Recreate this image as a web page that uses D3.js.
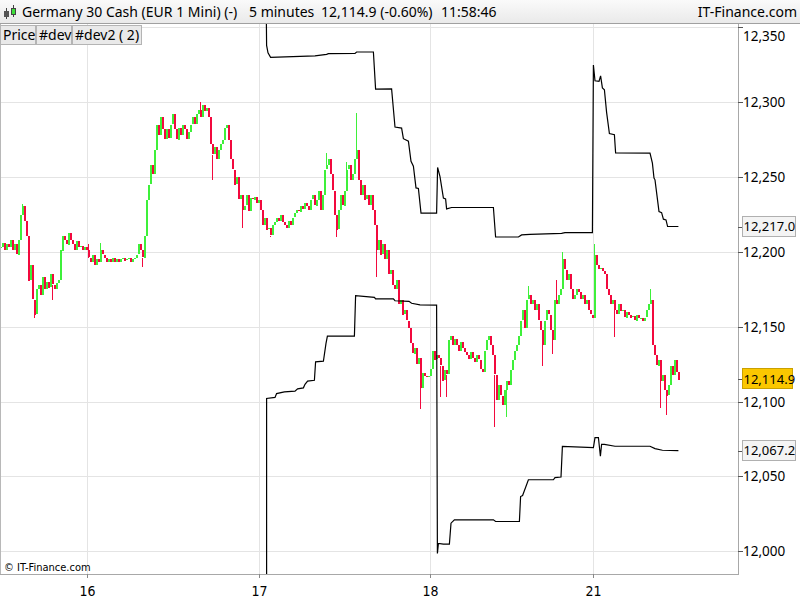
<!DOCTYPE html>
<html>
<head>
<meta charset="utf-8">
<title>Germany 30 Cash - 5 minutes</title>
<script src="https://cdnjs.cloudflare.com/ajax/libs/d3/7.8.5/d3.min.js"></script>
<style>
  html, body { margin: 0; padding: 0; background: #fff; }
  svg { display: block; }
  .ui { font-family: "Noto Sans", "Open Sans", sans-serif; }
  .narrow { font-family: "DejaVu Sans Condensed", "Liberation Sans Narrow", "DejaVu Sans", sans-serif; font-stretch: condensed; }
</style>
</head>
<body>
<div id="chart"></div>
<script>
// closes of each 5 minute bar, one array per trading day
const day15 = [12203,12206,12201,12205,12203,12208,12201,12205,12198,12208,
  12225,12231,12221,12211,12181,12191,12168,12158,12175,12178,
  12171,12183,12175,12180,12176,12185,12178,12175,12179,12181,
  12201,12211,12208,12205,12213,12208,12205,12201,12207,12203,
  12204,12201,12203,12201];
const day16 = [12196,12193,12198,12191,12195,12193,12201,12198,12196,12193,
  12195,12193,12196,12193,12195,12193,12195,12196,12194,12195,
  12196,12193,12195,12196,12198,12205,12201,12196,12211,12235,
  12245,12258,12252,12268,12285,12278,12290,12282,12275,12282,
  12276,12285,12292,12282,12275,12283,12278,12285,12282,12275,
  12280,12285,12290,12285,12292,12295,12290,12298,12294,12296,
  12290,12272,12265,12270,12262,12268,12272,12275,12283,12285,
  12275,12262,12255,12245,12250,12235,12238,12228,12231,12238,
  12227,12236,12235,12237,12233,12235];
const day17 = [12228,12218,12223,12215,12216,12211,12218,12220,12223,12221,
  12225,12220,12218,12216,12221,12218,12223,12226,12228,12227,
  12231,12229,12233,12231,12228,12235,12238,12231,12235,12241,
  12228,12238,12255,12258,12262,12252,12241,12225,12215,12228,
  12238,12231,12241,12255,12258,12248,12252,12262,12268,12248,
  12238,12245,12235,12238,12231,12238,12228,12218,12201,12208,
  12198,12205,12195,12201,12185,12188,12178,12175,12181,12165,
  12168,12158,12161,12154,12149,12139,12132,12136,12125,12129,
  12109,12119,12117,12116,12117,12122];
const day18 = [12134,12128,12131,12129,12124,12114,12121,12118,12141,12144,
  12138,12142,12138,12134,12140,12136,12133,12131,12128,12133,
  12129,12126,12131,12128,12122,12120,12134,12141,12144,12138,
  12131,12118,12101,12111,12104,12098,12108,12114,12111,12121,
  12128,12134,12138,12144,12154,12161,12149,12168,12171,12165,
  12168,12161,12165,12154,12148,12138,12154,12161,12158,12148,
  12141,12168,12165,12171,12175,12195,12188,12181,12185,12175,
  12168,12171,12175,12173,12168,12171,12165,12168,12161,12158,
  12156];
const day21 = [12198,12191,12188,12189,12187,12185,12175,12171,12165,12168,
  12161,12158,12165,12160,12161,12156,12160,12158,12156,12157,
  12154,12158,12156,12156,12154,12156,12161,12165,12168,12138,
  12131,12124,12128,12114,12118,12108,12104,12111,12124,12118,
  12128,12120,12114.9];

// long shadows (bar number, extreme price)
const wickBars = [11,14,17,26,44,50,71,100,106,121,135,163,168,173,178,188,210,220,223,247,253,264,271,276,278,281,297,307,325,330,333];
const wickVals = [12232,12200,12156,12168,12205,12206,12190,12300,12248,12216,12210,12266,12210,12260,12293,12183,12095,12103,12103,12083,12090,12177,12124,12132,12181,12200,12205,12143,12175,12096,12091];

// #dev upper band: [bar, price]
const devUpper = [[133,12380],[133.3,12338],[134,12333],[135.3,12330],[157.5,12331],[163.3,12332],[164.2,12332.5],
  [177.5,12332.7],[178.3,12333.6],[186.7,12333.6],[187.8,12308.8],[195.8,12308.9],[197.5,12283.5],[200.8,12282.8],
  [201.7,12275.7],[204.2,12274],[205.5,12260.6],[206.7,12257.3],[208,12242.8],[209.2,12242.4],[210.5,12226],
  [218.3,12226],[218.8,12256.5],[220,12250.4],[221.7,12236],[222.8,12235.5],[223.3,12228.8],[225.8,12229.7],
  [246.7,12229.7],[247.8,12210],[259.2,12210],[260.8,12211.4],[265,12211.8],[280.8,12212.4],[282.5,12212.9],
  [296.2,12212.9],[296.7,12324.9],[297.5,12314.4],[299.5,12314],[300.3,12317.7],[301.2,12309.6],[302.2,12308.4],
  [303.3,12293.3],[304.7,12279.1],[307.2,12278.4],[307.8,12266.2],[325,12266.1],[326.2,12259.4],[327,12249.4],
  [327.5,12248.2],[329.5,12227],[330.8,12226.3],[331.7,12221.9],[333,12221.4],[333.8,12217],[339.2,12217.0]];
// #dev2 lower band
const devLower = [[133.3,11960],[133.3,12102.1],[137.5,12102.8],[138.3,12105.4],[142.2,12106.5],[147.5,12107],
  [148.8,12108.5],[151.7,12109.2],[152.5,12111.6],[153.8,12113.7],[157.2,12114.3],[157.8,12126.6],[161.7,12127],
  [163,12138.9],[163.7,12143.8],[177.2,12143.8],[177.8,12170.8],[187.2,12169.7],[187.8,12168.6],[196.7,12168.6],
  [197.5,12167.4],[204.5,12167],[205.8,12165.7],[210,12164.7],[218.3,12164.5],[218.7,11998.5],[219.2,12005.2],
  [221.7,12004.8],[224.7,12004.8],[225.5,12018.8],[227.2,12021],[246.7,12021],[247.8,12019.9],[259.7,12019.9],
  [260.3,12036.6],[261.3,12037.3],[264.2,12047.8],[276.7,12047.8],[277.5,12049.2],[280.5,12049.6],[281.2,12070.1],
  [296.7,12069.3],[297.5,12076],[299.2,12076],[300.2,12063.5],[300.8,12071.5],[302.2,12071.5],[307.5,12070.2],
  [325,12070.2],[327.5,12068.6],[331.2,12067.5],[339.2,12067.2]];

const dayTicks = [43.5, 129.5, 215, 296.5];
const dayLabels = ["16", "17", "18", "21"];
const priceTicks = [12000, 12050, 12100, 12150, 12200, 12250, 12300, 12350];
const lastValues = [12217.0, 12114.9, 12067.2];

const W = 800, H = 600;
const plot = { left: 0, right: 738, top: 24, bottom: 574 };

const closes = [].concat(day15, day16, day17, day18, day21);
const bars = closes.map((c, i) => ({ i: i, o: i > 0 ? closes[i - 1] : c, c: c }));

const x = d3.scaleLinear().domain([0, 369]).range([plot.left, plot.right]);
const y = d3.scaleLinear().domain([12000, 12300]).range([551.3, 102.3]);

const svg = d3.select("#chart").append("svg").attr("width", W).attr("height", H);

svg.append("defs").append("clipPath").attr("id", "clip")
  .append("rect").attr("x", plot.left).attr("y", plot.top)
  .attr("width", plot.right - plot.left).attr("height", plot.bottom - plot.top);

// gridlines
const grid = svg.append("g").attr("shape-rendering", "crispEdges");
grid.selectAll(".hg").data(priceTicks).enter().append("line")
  .attr("x1", plot.left).attr("x2", plot.right)
  .attr("y1", d => Math.round(y(d)) + 0.5).attr("y2", d => Math.round(y(d)) + 0.5)
  .attr("stroke", "#e4e4e4");
grid.selectAll(".vg").data(dayTicks).enter().append("line")
  .attr("x1", d => Math.round(x(d)) + 0.5).attr("x2", d => Math.round(x(d)) + 0.5)
  .attr("y1", plot.top).attr("y2", plot.bottom)
  .attr("stroke", "#e4e4e4");

const g = svg.append("g").attr("clip-path", "url(#clip)");

// candles
const up = "#3ef03a", down = "#f2093e";
g.append("g").attr("shape-rendering", "crispEdges").selectAll("rect").data(bars).enter().append("rect")
  .attr("x", d => Math.round(x(d.i)))
  .attr("width", 2)
  .attr("y", d => Math.round(y(Math.max(d.o, d.c))))
  .attr("height", d => Math.max(1, Math.round(Math.abs(y(d.o) - y(d.c)))))
  .attr("fill", d => d.c >= d.o ? up : down);

g.append("g").attr("shape-rendering", "crispEdges").selectAll("line").data(wickBars).enter().append("line")
  .attr("x1", d => Math.round(x(d)) + 0.5).attr("x2", d => Math.round(x(d)) + 0.5)
  .attr("y1", d => y(bars[d].c))
  .attr("y2", (d, k) => y(wickVals[k]))
  .attr("stroke", d => bars[d].c >= bars[d].o ? up : down);

// dev bands
const line = d3.line().x(d => x(d[0])).y(d => y(d[1]));
[devUpper, devLower].forEach(band => {
  g.append("path").datum(band).attr("d", line)
    .attr("fill", "none").attr("stroke", "#000").attr("stroke-width", 1.2);
});

// frame
svg.append("line").attr("x1", plot.right + 0.5).attr("x2", plot.right + 0.5)
  .attr("y1", plot.top).attr("y2", plot.bottom + 1).attr("stroke", "#a8a8a8");
svg.append("line").attr("x1", 0).attr("x2", plot.right + 1)
  .attr("y1", plot.bottom + 0.5).attr("y2", plot.bottom + 0.5).attr("stroke", "#a8a8a8");
svg.append("line").attr("x1", 0.5).attr("x2", 0.5)
  .attr("y1", plot.top).attr("y2", plot.bottom).attr("stroke", "#b8b8b8");

// right price axis
const yAxis = svg.append("g").attr("class", "ui");
priceTicks.forEach(v => {
  const py = Math.round(y(v)) + 0.5;
  yAxis.append("line").attr("x1", plot.right).attr("x2", plot.right + 5)
    .attr("y1", py).attr("y2", py).attr("stroke", "#555");
  yAxis.append("text").attr("x", plot.right + 5).attr("y", Math.max(py, 36))
    .attr("dy", "0.35em").attr("font-size", 13.5).attr("fill", "#000")
    .text(d3.format(",")(v));
});

// last value boxes
lastValues.forEach((v, k) => {
  const py = y(v);
  const gold = k === 1;
  yAxis.append("line").attr("x1", plot.right).attr("x2", plot.right + 5)
    .attr("y1", Math.round(py) + 0.5).attr("y2", Math.round(py) + 0.5).attr("stroke", "#555");
  yAxis.append("rect").attr("x", plot.right + 4.5).attr("y", Math.round(py) - 10.5)
    .attr("width", gold ? 50 : 53).attr("height", 20)
    .attr("fill", gold ? "#fbc700" : "#f4f4f4").attr("stroke", gold ? "#c9a000" : "#b0b0b0");
  yAxis.append("text").attr("x", plot.right + 5.5).attr("y", py).attr("dy", "0.35em")
    .attr("font-size", 13).attr("fill", "#000").text(d3.format(",.1f")(v));
});

// bottom date axis
const xAxis = svg.append("g").attr("class", "narrow");
dayTicks.forEach((t, k) => {
  const px = Math.round(x(t)) + 0.5;
  xAxis.append("line").attr("x1", px).attr("x2", px)
    .attr("y1", plot.bottom).attr("y2", plot.bottom + 4).attr("stroke", "#888");
  xAxis.append("text").attr("x", px).attr("y", 596).attr("text-anchor", "middle")
    .attr("font-size", 14).attr("fill", "#000").text(dayLabels[k]);
});
svg.append("text").attr("class", "narrow").attr("x", 4).attr("y", 571)
  .attr("font-size", 11).attr("fill", "#000").text("\u00a9 IT-Finance.com");

// header bar
const hdrGrad = svg.select("defs").append("linearGradient").attr("id", "hdr")
  .attr("x1", 0).attr("x2", 0).attr("y1", 0).attr("y2", 1);
hdrGrad.append("stop").attr("offset", "0%").attr("stop-color", "#fafafa");
hdrGrad.append("stop").attr("offset", "100%").attr("stop-color", "#e9e9e9");
svg.append("rect").attr("x", 0).attr("y", 0).attr("width", W).attr("height", plot.top)
  .attr("fill", "url(#hdr)");
svg.append("line").attr("x1", 0).attr("x2", W).attr("y1", plot.top - 0.5).attr("y2", plot.top - 0.5)
  .attr("stroke", "#a0a0a0");

// small candle icon
const icon = svg.append("g").attr("shape-rendering", "crispEdges");
icon.append("line").attr("x1", 6.5).attr("x2", 6.5).attr("y1", 8).attr("y2", 19).attr("stroke", "#444");
icon.append("rect").attr("x", 4).attr("y", 11).attr("width", 5).attr("height", 6).attr("fill", "#555");
icon.append("line").attr("x1", 13.5).attr("x2", 13.5).attr("y1", 5).attr("y2", 17).attr("stroke", "#444");
icon.append("rect").attr("x", 11.5).attr("y", 8.5).attr("width", 4).attr("height", 6)
  .attr("fill", "#3ee03a").attr("stroke", "#444");

const hdr = svg.append("g").attr("class", "ui").attr("font-size", 14).attr("fill", "#000");
hdr.append("text").attr("x", 22).attr("y", 17).text("Germany 30 Cash (EUR 1 Mini) (-)");
hdr.append("text").attr("x", 249).attr("y", 17).text("5 minutes");
hdr.append("text").attr("x", 321).attr("y", 17).text("12,114.9 (-0.60%)");
hdr.append("text").attr("x", 441).attr("y", 17).text("11:58:46");
hdr.append("text").attr("x", 797).attr("y", 17).attr("text-anchor", "end").text("IT-Finance.com");

// legend tabs
const tabs = [["Price", 0, 35], ["#dev", 36, 35], ["#dev2 ( 2)", 72, 69]];
const leg = svg.append("g").attr("class", "ui");
tabs.forEach(t => {
  leg.append("rect").attr("x", t[1] + 0.5).attr("y", 25.5).attr("width", t[2]).attr("height", 19)
    .attr("fill", "#e9e9e9").attr("stroke", "#b4b4b4");
  leg.append("text").attr("x", t[1] + 3).attr("y", 40).attr("font-size", 14).attr("fill", "#000").text(t[0]);
});
</script>
</body>
</html>
